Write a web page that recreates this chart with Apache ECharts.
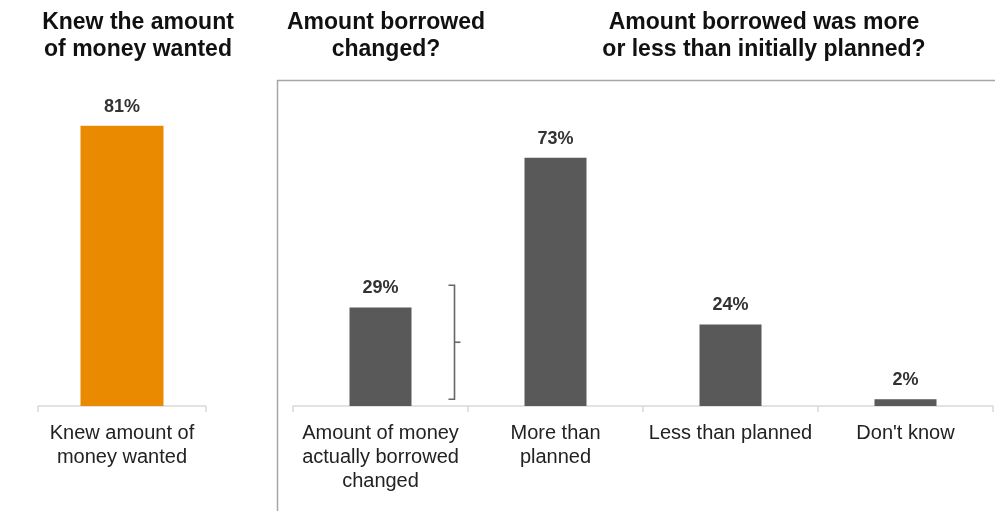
<!DOCTYPE html>
<html>
<head>
<meta charset="utf-8">
<script src="https://cdn.jsdelivr.net/npm/echarts@6/dist/echarts.min.js"></script>
<style>
  html, body { margin: 0; padding: 0; background: #fff; }
  #chart { width: 995px; height: 511px; }
</style>
</head>
<body>
<div id="chart"></div>
<script>
// left panel
const leftCategories = ['Knew amount of\nmoney wanted']
const leftValues = [81]
// right panel
const rightCategories = ['Amount of money\nactually borrowed\nchanged', 'More than\nplanned', 'Less than planned', "Don't know"]
const rightValues = [29, 73, 24, 2]
// bracket span (in %), next to the first bar
const bracketRange = [2, 35.5]

const titles = [
  { text: 'Knew the amount\nof money wanted', x: 133 },
  { text: 'Amount borrowed\nchanged?', x: 381 },
  { text: 'Amount borrowed was more\nor less than initially planned?', x: 759 }
]

const chart = echarts.init(document.getElementById('chart'))

const axisFont = {
  fontFamily: 'Liberation Sans, Arial, sans-serif',
  fontSize: 20,
  color: '#222',
  lineHeight: 24
}
const pctLabel = {
  show: true,
  position: 'top',
  distance: 10,
  formatter: '{c}%',
  fontFamily: 'Liberation Sans, Arial, sans-serif',
  fontWeight: 'bold',
  fontSize: 18,
  color: '#333'
}

function catAxis (idx, data) {
  return {
    type: 'category',
    gridIndex: idx,
    data: data,
    axisLine: { lineStyle: { color: '#d9d9d9', width: 1.5 } },
    axisTick: { show: true, length: 6, lineStyle: { color: '#d9d9d9', width: 1.5 } },
    axisLabel: Object.assign({ margin: 15, interval: 0 }, axisFont)
  }
}
function valAxis (idx) {
  return {
    type: 'value',
    gridIndex: idx,
    min: 0,
    max: 100,
    show: false,
    splitLine: { show: false }
  }
}

const option = {
  backgroundColor: '#fff',
  animation: false,
  title: titles.map(t => ({
    text: t.text,
    left: t.x,
    top: 4,
    textAlign: 'center',
    textStyle: {
      fontFamily: 'Liberation Sans, Arial, sans-serif',
      fontWeight: 'bold',
      fontSize: 23,
      lineHeight: 27,
      color: '#111'
    }
  })),
  grid: [
    { left: 38, right: 789, top: 60, bottom: 105 },
    { left: 293, right: 2, top: 66, bottom: 105 }
  ],
  xAxis: [catAxis(0, leftCategories), catAxis(1, rightCategories)],
  yAxis: [valAxis(0), valAxis(1)],
  series: [
    {
      type: 'bar',
      xAxisIndex: 0,
      yAxisIndex: 0,
      data: leftValues,
      barWidth: 83,
      itemStyle: { color: '#EA8A00' },
      label: pctLabel
    },
    {
      type: 'bar',
      xAxisIndex: 1,
      yAxisIndex: 1,
      data: rightValues,
      barWidth: 62,
      itemStyle: { color: '#595959' },
      label: pctLabel
    }
  ]
}
chart.setOption(option)

// box around the right panel + bracket
const barPx = chart.convertToPixel({ gridIndex: 1 }, [0, 0])
const topPx = chart.convertToPixel({ gridIndex: 1 }, [0, bracketRange[1]])
const botPx = chart.convertToPixel({ gridIndex: 1 }, [0, bracketRange[0]])
const bx = barPx[0] + 74
const midY = (topPx[1] + botPx[1]) / 2
const bracketStyle = { stroke: '#666', lineWidth: 1.6, fill: 'none' }

chart.setOption({
  graphic: [
    {
      type: 'polyline',
      shape: { points: [[277.5, 511], [277.5, 80.5], [995, 80.5]] },
      style: { stroke: '#a6a6a6', lineWidth: 1.5, fill: 'none' },
      silent: true
    },
    {
      type: 'polyline',
      shape: { points: [[bx - 6, topPx[1]], [bx, topPx[1]], [bx, botPx[1]], [bx - 6, botPx[1]]] },
      style: bracketStyle,
      silent: true
    },
    {
      type: 'line',
      shape: { x1: bx, y1: midY, x2: bx + 6, y2: midY },
      style: bracketStyle,
      silent: true
    }
  ]
})
</script>
</body>
</html>
